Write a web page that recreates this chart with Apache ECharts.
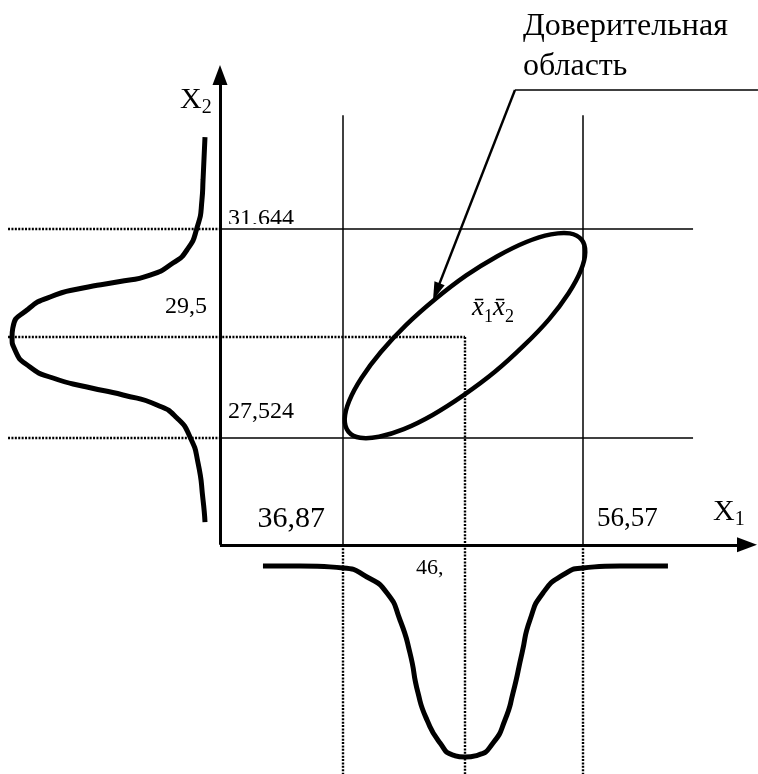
<!DOCTYPE html>
<html>
<head>
<meta charset="utf-8">
<script src="https://cdn.jsdelivr.net/npm/echarts@6/dist/echarts.min.js"></script>
<style>
html, body { margin: 0; padding: 0; background: #fff; }
#chart { width: 758px; height: 774px; }
</style>
</head>
<body>
<div id="chart"></div>
<script>
// уровни, отмеченные на осях X1 и X2
var xLevels = [36.87, 46.88, 56.57];
var yLevels = [27.524, 29.517, 31.644];
var xTickLabels = ['36,87', '46,', '56,57'];
var yTickLabels = ['27,524', '29,5', '31,644'];

// контур доверительной области (x1, x2)
var ellipseX1 = [56.44, 56.75, 56.39, 55.38, 53.79, 51.72, 49.33, 46.77, 44.22, 41.85, 39.82, 38.27,
                 37.31, 37.00, 37.37, 38.38, 39.97, 42.03, 44.42, 46.98, 49.53, 51.91, 53.93, 55.48];
var ellipseX2 = [31.44, 31.19, 30.83, 30.38, 29.87, 29.35, 28.83, 28.37, 27.98, 27.70, 27.55, 27.53,
                 27.65, 27.90, 28.26, 28.71, 29.22, 29.75, 30.26, 30.73, 31.11, 31.39, 31.54, 31.56];

// плотность по X1 (под осью)
var densX1x = [30.29, 33.33, 36.86, 38.83, 40.47, 41.54, 42.36, 43.02, 43.76, 44.83, 45.89, 46.88,
               47.94, 49.18, 50.16, 50.82, 51.56, 52.21, 53.28, 54.92, 56.57, 59.60, 63.54];
var densX1y = [25.003, 25.003, 24.964, 24.786, 24.471, 23.939, 23.288, 22.500, 21.967, 21.514, 21.277, 21.238,
               21.277, 21.514, 21.967, 22.500, 23.288, 23.939, 24.471, 24.826, 24.964, 25.003, 25.003];

// плотность по X2 (слева от оси)
var densX2x = [25.53, 25.37, 25.28, 24.87, 24.05, 22.90, 21.02, 18.31, 15.51, 12.81, 10.92, 9.77,
               9.69, 9.93, 11.16, 13.05, 15.84, 18.80, 21.59, 23.23, 24.30, 24.96, 25.37, 25.53];
var densX2y = [33.459, 32.612, 32.218, 31.666, 31.232, 30.976, 30.739, 30.601, 30.483, 30.306, 30.049, 29.714,
               29.517, 29.261, 28.926, 28.709, 28.531, 28.374, 28.177, 27.920, 27.546, 27.033, 26.304, 25.870];

// границы поля и оси
var xMin = 8.7, xMax = 70.933, yMin = 20.903, yMax = 36.16;
var x0 = 26.76, y0 = 25.42, xEnd = 70.03, yEnd = 34.68;
var lineTop = 33.89, lineRight = 65.60, dotLeft = 9.36;
var leader = [[70.93, 34.386], [50.98, 34.386], [44.52, 30.41]];

var serif = '"Liberation Serif", "Times New Roman", serif';

function zip(a, b) {
    return a.map(function (v, i) { return [v, b[i]]; });
}
function seg(a, b) {
    return { coords: [a, b] };
}

var solidSegs = [], dottedSegs = [];
[xLevels[0], xLevels[2]].forEach(function (x) {
    solidSegs.push(seg([x, y0], [x, lineTop]));
    dottedSegs.push(seg([x, y0], [x, yMin]));
});
[yLevels[0], yLevels[2]].forEach(function (y) {
    solidSegs.push(seg([x0, y], [lineRight, y]));
    dottedSegs.push(seg([dotLeft, y], [x0, y]));
});
dottedSegs.push(seg([dotLeft, yLevels[1]], [xLevels[1], yLevels[1]]));
dottedSegs.push(seg([xLevels[1], yLevels[1]], [xLevels[1], yMin]));
solidSegs.push(seg(leader[0], leader[1]));

function txt(value, text, size, align, offset, extra) {
    var label = {
        show: true, position: 'inside', formatter: text, color: '#000', opacity: 1,
        textBorderWidth: 0, fontFamily: serif, fontSize: size,
        align: align, verticalAlign: 'middle', offset: offset
    };
    for (var k in extra) label[k] = extra[k];
    return { value: value, label: label };
}

// подстрочные индексы
var subRich = {
    m: { fontFamily: serif, fontSize: 30, lineHeight: 36, color: '#000' },
    s: { fontFamily: serif, fontSize: 20, lineHeight: 20, verticalAlign: 'bottom', color: '#000' },
    v: { fontFamily: serif, fontSize: 27, lineHeight: 37, fontStyle: 'italic', color: '#000' },
    t: { fontFamily: serif, fontSize: 18, lineHeight: 18, verticalAlign: 'bottom', color: '#000' }
};

var labels = [
    txt([xLevels[0], y0], xTickLabels[0], 30, 'right', [-18, -26]),
    txt([xLevels[1], y0], xTickLabels[1], 22, 'left', [-49, 23]),
    txt([xLevels[2], y0], xTickLabels[2], 27, 'left', [14, -26]),
    txt([x0, yLevels[0]], yTickLabels[0], 24, 'left', [8, -26.5]),
    txt([x0, yLevels[1]], yTickLabels[1], 24, 'right', [-13, -30.5]),
    txt([x0, yLevels[2]], yTickLabels[2], 24, 'left', [8, -10.5]),
    txt([x0, yEnd], '{m|X}{s|2}', 30, 'left', [-40, 24.8], { rich: subRich }),
    txt([xEnd, y0], '{m|X}{s|1}', 30, 'left', [-34, -33], { rich: subRich }),
    txt([xLevels[1], yLevels[1]], '{v|x\u0304}{t|1}{v|x\u0304}{t|2}', 27, 'left', [7, -29], { rich: subRich }),
    txt(leader[1], 'Доверительная\nобласть', 32, 'left', [8, -43.5], { lineHeight: 40 })
];

var chart = echarts.init(document.getElementById('chart'));
chart.setOption({
    animation: false,
    backgroundColor: '#fff',
    grid: { left: 0, right: 0, top: 0, bottom: 0 },
    xAxis: { type: 'value', min: xMin, max: xMax, show: false },
    yAxis: { type: 'value', min: yMin, max: yMax, show: false },
    series: [
        {
            type: 'scatter', z: 2, silent: true, symbolSize: 0,
            itemStyle: { color: '#000', opacity: 1 },
            data: labels
        },
        {
            // обрезанная подпись 31,644
            type: 'custom', z: 3, silent: true,
            data: [[27.17, 31.745, 33.4, 31.652]],
            renderItem: function (params, api) {
                var a = api.coord([api.value(0), api.value(1)]);
                var b = api.coord([api.value(2), api.value(3)]);
                return { type: 'rect', shape: { x: a[0], y: a[1], width: b[0] - a[0], height: b[1] - a[1] }, style: { fill: '#fff' } };
            }
        },
        {
            type: 'lines', coordinateSystem: 'cartesian2d', z: 4, silent: true,
            lineStyle: { color: '#000', width: 1.5, type: 'solid', opacity: 1 },
            data: solidSegs
        },
        {
            type: 'lines', coordinateSystem: 'cartesian2d', z: 4, silent: true,
            lineStyle: { color: '#000', width: 2.4, type: [2, 1.4], opacity: 1 },
            data: dottedSegs
        },
        {
            type: 'lines', coordinateSystem: 'cartesian2d', z: 5, silent: true,
            symbol: ['none', 'triangle'], symbolSize: [1, [15, 20]],
            lineStyle: { color: '#000', width: 3, opacity: 1 },
            itemStyle: { color: '#000' },
            data: [seg([x0, y0], [xEnd, y0]), seg([x0, y0], [x0, yEnd])]
        },
        {
            type: 'lines', coordinateSystem: 'cartesian2d', z: 5, silent: true,
            symbol: ['none', 'triangle'], symbolSize: [1, [11, 18]],
            lineStyle: { color: '#000', width: 2.4, opacity: 1 },
            data: [seg(leader[1], leader[2])]
        },
        {
            type: 'line', z: 6, silent: true, smooth: 0.6, showSymbol: false,
            lineStyle: { color: '#000', width: 5 },
            data: zip(densX1x, densX1y)
        },
        {
            type: 'line', z: 6, silent: true, smooth: 0.6, showSymbol: false,
            lineStyle: { color: '#000', width: 5 },
            data: zip(densX2x, densX2y)
        },
        {
            type: 'custom', z: 6, silent: true,
            data: zip(ellipseX1, ellipseX2),
            renderItem: function (params, api) {
                if (params.dataIndex !== 0) return;
                var pts = ellipseX1.map(function (x, i) { return api.coord([x, ellipseX2[i]]); });
                return {
                    type: 'polygon',
                    shape: { points: pts, smooth: 0.34 },
                    style: { fill: 'none', stroke: '#000', lineWidth: 4.5 }
                };
            }
        }
    ]
});
</script>
</body>
</html>
